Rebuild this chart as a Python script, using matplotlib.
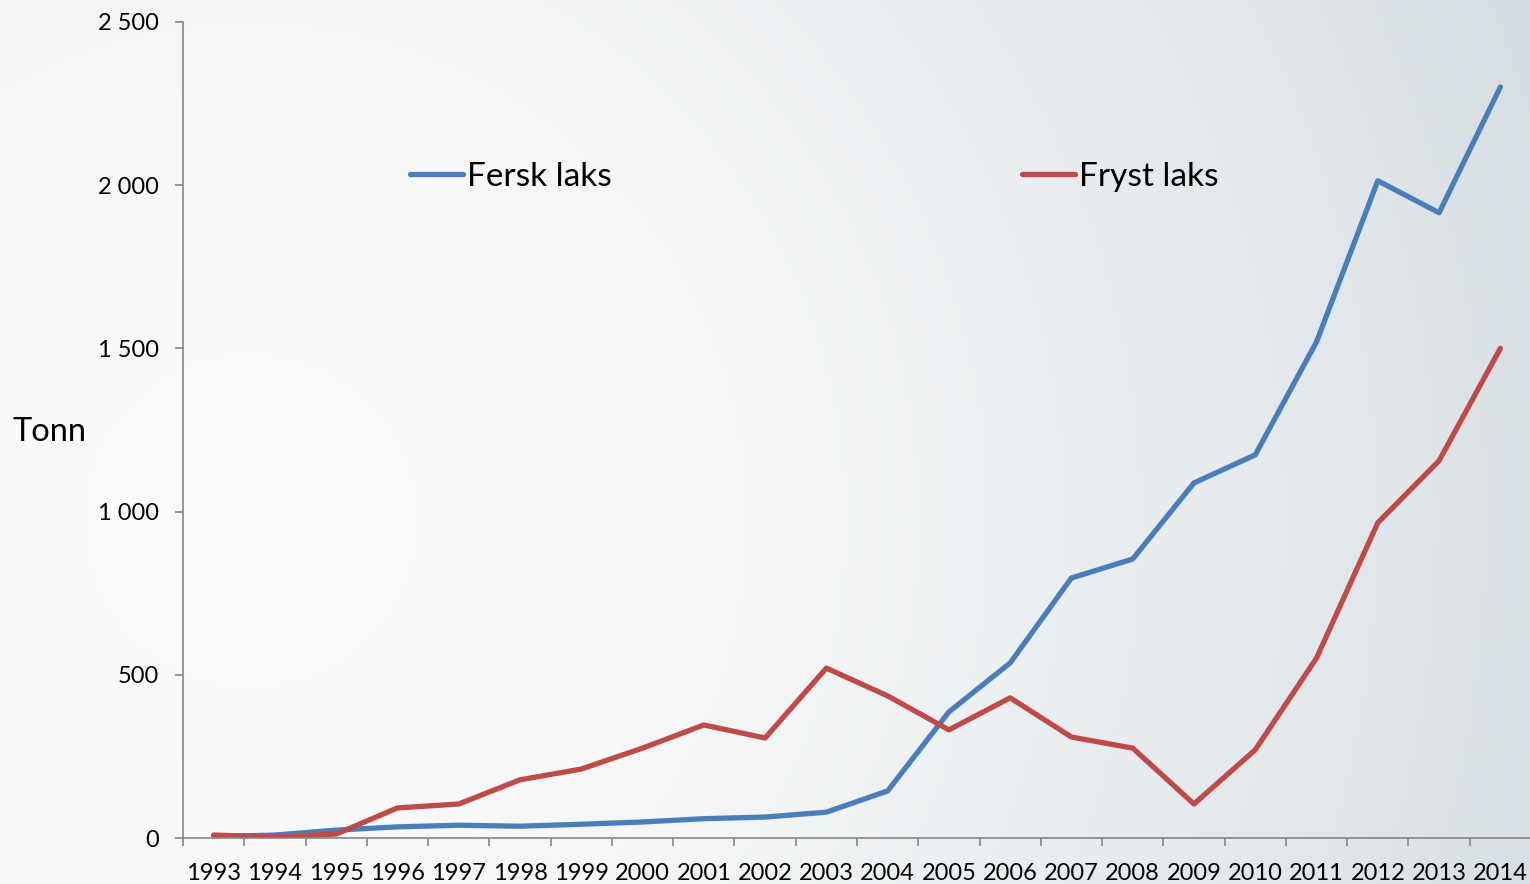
import numpy as np
import matplotlib
matplotlib.use("Agg")
import matplotlib.pyplot as plt
from matplotlib.lines import Line2D
from matplotlib.ticker import FuncFormatter

years = [str(y) for y in range(1993, 2015)]
fersk_laks = [5, 10, 25, 35, 40, 37, 43, 50, 60, 65, 80, 145, 387, 537, 797, 855,
              1088, 1174, 1520, 2013, 1915, 2300]
fryst_laks = [10, 4, 13, 93, 105, 179, 212, 276, 347, 307, 521, 436, 332, 430, 310, 276,
              105, 271, 552, 966, 1156, 1500]
y_ticks = [0, 500, 1000, 1500, 2000, 2500]

FONT = "Lato"
plt.rcParams['font.family'] = [FONT, 'DejaVu Sans']

W, H = 1530, 884
fig = plt.figure(figsize=(W / 100, H / 100), dpi=100)

# background gradient
bg = fig.add_axes([0, 0, 1, 1], zorder=0)
yy, xx = np.mgrid[0:H, 0:W]
d = np.sqrt((xx - 250.0) ** 2 + ((yy - 520.0) * 1.0) ** 2)
t = np.clip(d / 1400.0, 0, 1) ** 1.6
c0 = np.array([0xfc, 0xfc, 0xfc]) / 255.0
c1 = np.array([0xd5, 0xdd, 0xe2]) / 255.0
img = c0[None, None, :] * (1 - t[..., None]) + c1[None, None, :] * t[..., None]
bg.imshow(img, extent=[0, 1, 0, 1], aspect='auto', origin='upper')
bg.set_axis_off()

ax = fig.add_axes([183 / W, 1 - 838.3 / H, (1531 - 183) / W, (838.3 - 21.7) / H], zorder=1)
ax.patch.set_alpha(0)

x = np.arange(len(years))
blue = '#4a7ebb'
red = '#be4b48'
ax.plot(x, fersk_laks, color=blue, lw=3.8, solid_capstyle='round', solid_joinstyle='round', label='Fersk laks')
ax.plot(x, fryst_laks, color=red, lw=3.8, solid_capstyle='round', solid_joinstyle='round', label='Fryst laks')

ax.set_xlim(-0.5, len(years) - 0.5)
ax.set_ylim(0, 2500)

grey = '#868686'
for s in ['top', 'right']:
    ax.spines[s].set_visible(False)
for s in ['left', 'bottom']:
    ax.spines[s].set_color(grey)
    ax.spines[s].set_linewidth(1.2)

ax.set_xticks(np.arange(-0.5, len(years), 1))
ax.set_xticklabels([])
ax.set_xticks(x, minor=True)
ax.set_xticklabels(years, minor=True)
ax.tick_params(axis='x', which='major', direction='out', length=5.5, width=1.2, color=grey)
ax.tick_params(axis='x', which='minor', length=0, pad=18, labelsize=17)

ax.set_yticks(y_ticks)
ax.yaxis.set_major_formatter(FuncFormatter(lambda v, p: f"{int(v):,}".replace(",", " ")))
ax.tick_params(axis='y', direction='out', length=5.5, width=1.2, color=grey, pad=12, labelsize=17)

fig.text(13 / W, 1 - 432 / H, 'Tonn', fontsize=23.5, ha='left', va='center')

h1 = Line2D([], [], color=blue, lw=3.8, solid_capstyle='round')
h2 = Line2D([], [], color=red, lw=3.8, solid_capstyle='round')
leg1 = fig.legend([h1], ['Fersk laks'], loc='center left', bbox_to_anchor=(410 / W, 1 - 177 / H),
                  frameon=False, fontsize=24, handlelength=1.6, handletextpad=0.12,
                  borderpad=0, borderaxespad=0)
leg2 = fig.legend([h2], ['Fryst laks'], loc='center left', bbox_to_anchor=(1022 / W, 1 - 177 / H),
                  frameon=False, fontsize=24, handlelength=1.6, handletextpad=0.12,
                  borderpad=0, borderaxespad=0)

fig.savefig('out.png', dpi=100)
